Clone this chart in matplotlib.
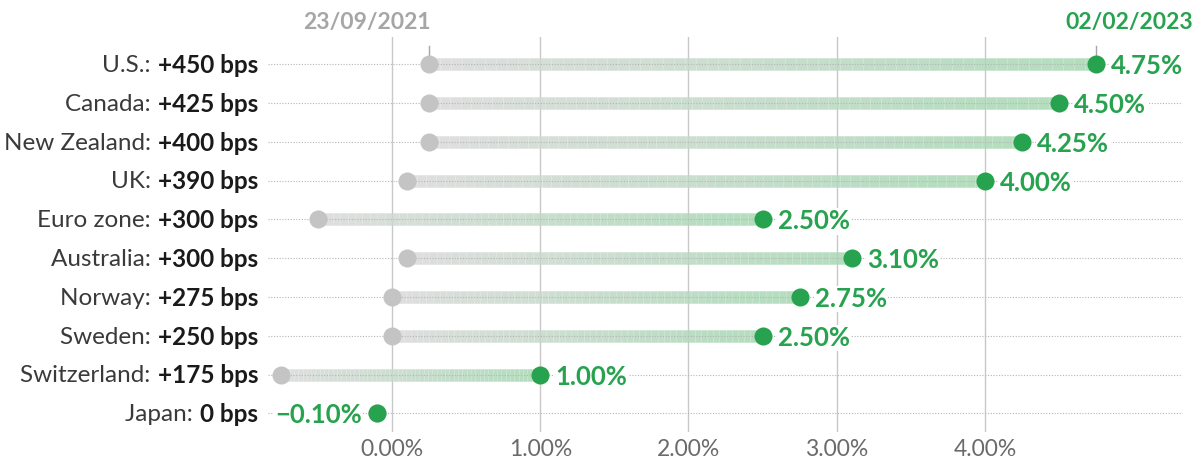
import matplotlib
matplotlib.use('Agg')
import matplotlib.pyplot as plt
from matplotlib.collections import LineCollection
from matplotlib.colors import to_rgb
import numpy as np

# Policy rates (%), 23/09/2021 -> 02/02/2023
countries = ['U.S.', 'Canada', 'New Zealand', 'UK', 'Euro zone',
             'Australia', 'Norway', 'Sweden', 'Switzerland', 'Japan']
change_bps = ['+450', '+425', '+400', '+390', '+300',
              '+300', '+275', '+250', '+175', '0']
rate_start = [0.25, 0.25, 0.25, 0.10, -0.50, 0.10, 0.00, 0.00, -0.75, -0.10]
rate_end = [4.75, 4.50, 4.25, 4.00, 2.50, 3.10, 2.75, 2.50, 1.00, -0.10]
end_labels = ['4.75%', '4.50%', '4.25%', '4.00%', '2.50%',
              '3.10%', '2.75%', '2.50%', '1.00%', '\u22120.10%']
x_ticks = [0, 1, 2, 3, 4]
x_tick_labels = ['0.00%', '1.00%', '2.00%', '3.00%', '4.00%']
date_start = '23/09/2021'
date_end = '02/02/2023'

GREEN = '#27a24e'
GREY_DOT = '#c4c4c4'
BAR_START = '#d9d9d9'
BAR_END = '#a6d8b2'
FONT = 'Lato'

W, H = 1204, 468
fig = plt.figure(figsize=(W / 100, H / 100), dpi=100)
ax = fig.add_axes([268 / W, (H - 432) / H, (1188 - 268) / W, (432 - 37) / H])

ax.set_xlim(-0.837, 5.37)
ax.set_ylim(9.48, -0.70)

for s in ax.spines.values():
    s.set_visible(False)
ax.set_yticks([])
ax.set_xticks(x_ticks)
ax.set_xticklabels(x_tick_labels, fontsize=16.5, color='#6a6a6a',
                   family=FONT, fontweight='normal')
ax.tick_params(axis='x', length=0, pad=5)

# vertical gridlines
for xv in x_ticks:
    ax.axvline(xv, color='#c8c8c8', lw=1.0, zorder=0)

c0 = np.array(to_rgb(BAR_START))
c1 = np.array(to_rgb(BAR_END))

for i, (name, bps, a, b, lab) in enumerate(zip(countries, change_bps, rate_start,
                                               rate_end, end_labels)):
    # dotted row guide
    ax.plot([-0.837, 5.33], [i, i], color='#b5b5b5', lw=0.8,
            ls=(0, (1, 1.5)), zorder=2)

    # gradient bar
    if b != a:
        n = 60
        xs = np.linspace(a, b, n + 1)
        segs = [[(xs[k], i), (xs[k + 1], i)] for k in range(n)]
        t = np.linspace(0, 1, n)[:, None]
        cols = c0 * (1 - t) + c1 * t
        lc = LineCollection(segs, colors=cols, linewidths=9, capstyle='butt',
                            alpha=0.85, zorder=1)
        ax.add_collection(lc)

    ax.plot(a, i, 'o', ms=13, color=GREY_DOT, mec='none', zorder=3)
    ax.plot(b, i, 'o', ms=13, color=GREEN, mec='none', zorder=4)

    side = -1 if b < 0 else 1
    ax.annotate(lab, (b, i), xytext=(11 * side, -1.5), textcoords='offset points',
                ha='right' if side < 0 else 'left', va='center', fontsize=18.5,
                fontweight='bold', color=GREEN, family=FONT, zorder=5,
                bbox=dict(boxstyle='square,pad=0.05', fc='white', ec='none'))

# row labels: light country name + bold change
fig.canvas.draw()
renderer = fig.canvas.get_renderer()
for i, (name, bps) in enumerate(zip(countries, change_bps)):
    tb = ax.annotate(f'{bps} bps', (0, i), xycoords=('axes fraction', 'data'),
                     xytext=(-7, -1), textcoords='offset points',
                     ha='right', va='center', fontsize=17.5, fontweight='bold',
                     color='#1a1a1a', family=FONT)
    bb = tb.get_window_extent(renderer)
    x_fig = bb.x0 / fig.bbox.width
    y_disp = ax.transData.transform((0, i))[1]
    fig.text(x_fig - 0.001, y_disp / fig.bbox.height - 1.4 / H, f'{name}: ',
             ha='right', va='center', fontsize=17.5, fontweight='normal',
             color='#3a3a3a', family=FONT)

# date markers
ax.annotate(date_start, (rate_start[0], -0.48), xytext=(1, 9),
            textcoords='offset points', ha='right', va='bottom',
            fontsize=16.5, fontweight='bold', color='#a6a6a6', family=FONT,
            annotation_clip=False)
ax.plot([rate_start[0], rate_start[0]], [-0.48, -0.14], color='#a6a6a6',
        lw=1, clip_on=False)
ax.annotate(date_end, (rate_end[0], -0.48), xytext=(-22, 9),
            textcoords='offset points', ha='left', va='bottom',
            fontsize=16.5, fontweight='bold', color=GREEN, family=FONT,
            annotation_clip=False)
ax.plot([rate_end[0], rate_end[0]], [-0.48, -0.14], color='#a6a6a6',
        lw=1, clip_on=False)

fig.savefig('out.png', dpi=100)
